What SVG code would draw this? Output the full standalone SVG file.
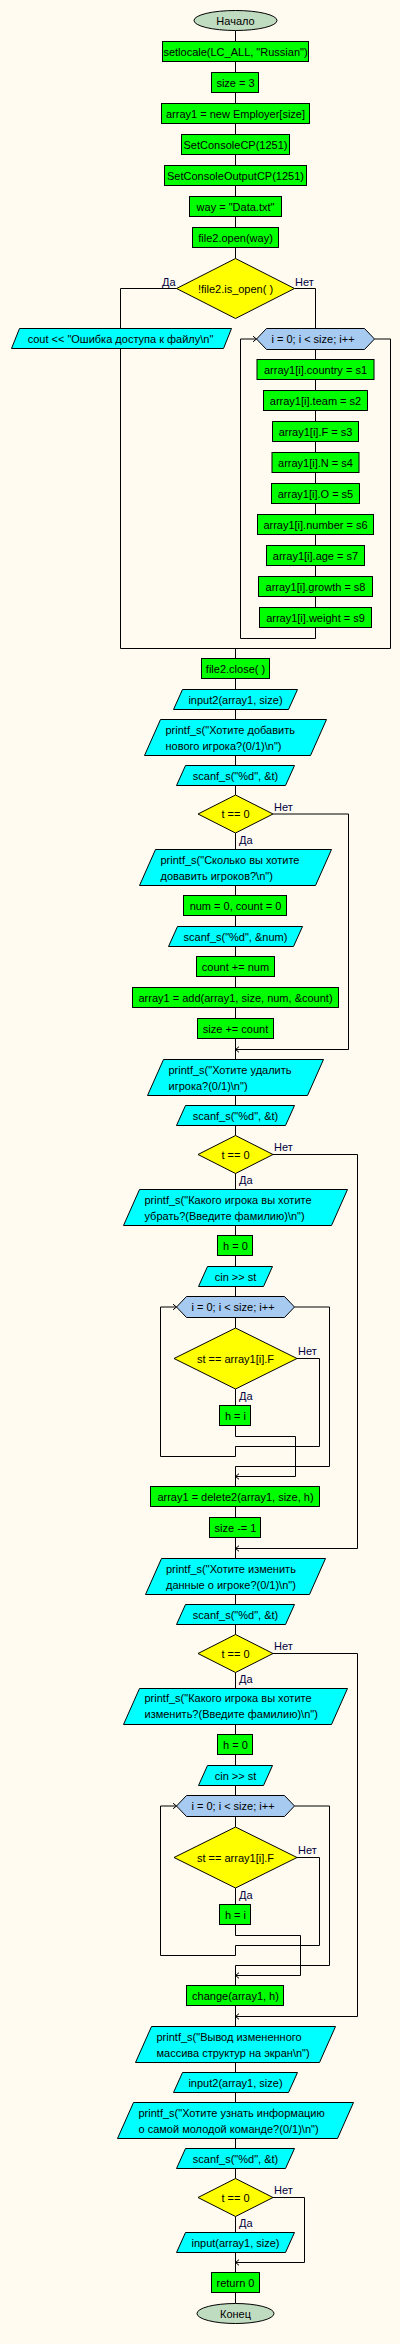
<svg xmlns="http://www.w3.org/2000/svg" width="400" height="2344" viewBox="0 0 400 2344">
<defs>
<style>
.p{fill:#00FF00;stroke:#000;stroke-width:1}
.io{fill:#00FFFF;stroke:#000;stroke-width:1}
.d{fill:#FFFF00;stroke:#000;stroke-width:1}
.h{fill:#A6CAF0;stroke:#000;stroke-width:1}
.t{fill:#C0DCC0;stroke:#000;stroke-width:1}
.ln{fill:none;stroke:#000;stroke-width:1}
.ar{fill:none;stroke:#000;stroke-width:1;marker-end:url(#arr)}
text{font-family:"Liberation Sans",Arial,sans-serif;font-size:11px;fill:#000}
.c{text-anchor:middle}
.lb{fill:#000040}
</style>
<marker id="arr" markerUnits="userSpaceOnUse" markerWidth="8" markerHeight="8" refX="0" refY="0" orient="auto" style="overflow:visible">
<path d="M-3.5,-2.8 L0,0 L-3.5,2.8" fill="none" stroke="#000" stroke-width="1"/>
</marker>
</defs>
<rect x="0" y="0" width="400" height="2344" fill="#FFFBF0"/>

<g id="connectors">
<path class="ln" d="M235.5,30.5V41.5M235.5,61.5V72.5M235.5,92.5V103.5M235.5,123.5V134.5M235.5,154.5V165.5M235.5,185.5V196.5M235.5,216.5V227.5M235.5,247.5V258.5"/>
<path class="ln" d="M176.5,288.5H120.5V328.5M120.5,348.5V648.5H390.5V339H374.5M294.5,288.5H315.5V328.5"/>
<path class="ln" d="M315.5,349.5V359.5M315.5,379.5V390.5M315.5,410.5V421.5M315.5,441.5V452.5M315.5,472.5V483.5M315.5,503.5V514.5M315.5,534.5V545.5M315.5,565.5V576.5M315.5,596.5V607.5"/>
<path class="ar" d="M315.5,627.5V638.5H240.5V339H256.5"/>
<path class="ln" d="M235.5,648.5V658.5M235.5,678.5V689.5M235.5,709.5V719.5M235.5,755.5V765.5M235.5,785.5V795M235.5,833V849.5M235.5,885.5V895.5M235.5,915.5V926.5M235.5,946.5V956.5M235.5,976.5V987.5M235.5,1007.5V1018.5M235.5,1038.5V1059.5"/>
<path class="ar" d="M273,814H348.5V1049.5H235.5"/>
<path class="ln" d="M235.5,1095.5V1105.5M235.5,1125.5V1135.5M235.5,1173.5V1189.5M235.5,1225.5V1235.5M235.5,1255.5V1266.5M235.5,1286.5V1296.5M235.5,1317.5V1328M235.5,1389V1405.5"/>
<path class="ar" d="M235.5,1425.5V1436.5H295.5V1476.5H235.5"/>
<path class="ar" d="M297,1358.5H319.5V1446.5H235.5V1456.5H160.5V1307H176.5"/>
<path class="ln" d="M294.5,1307H329.5V1466.5H235.5V1486.5"/>
<path class="ar" d="M273,1154.5H357.5V1548.5H235.5"/>
<path class="ln" d="M235.5,1506.5V1517.5M235.5,1537.5V1558.5M235.5,1594.5V1604.5M235.5,1624.5V1634.5M235.5,1672.5V1688.5M235.5,1724.5V1734.5M235.5,1754.5V1765.5M235.5,1785.5V1795.5M235.5,1816.5V1827M235.5,1888V1904.5"/>
<path class="ar" d="M235.5,1924.5V1935.5H300.5V1975.5H235.5"/>
<path class="ar" d="M297,1857.5H319.5V1945.5H235.5V1955.5H160.5V1806H176.5"/>
<path class="ln" d="M294.5,1806H329.5V1965.5H235.5V1985.5"/>
<path class="ar" d="M273,1653.5H357.5V2016.5H235.5"/>
<path class="ln" d="M235.5,2005.5V2026.5M235.5,2062.5V2072.5M235.5,2092.5V2102.5M235.5,2138.5V2148.5M235.5,2168.5V2178.5M235.5,2216.5V2232.5M235.5,2252.5V2272.5M235.5,2292.5V2303.5"/>
<path class="ar" d="M273,2197.5H304.5V2262.5H235.5"/>
</g>

<g id="labels">
<text class="lb" x="162" y="286">Да</text>
<text class="lb" x="295" y="286">Нет</text>
<text class="lb" x="274" y="811">Нет</text>
<text class="lb" x="239" y="844">Да</text>
<text class="lb" x="274" y="1151">Нет</text>
<text class="lb" x="239" y="1184">Да</text>
<text class="lb" x="298" y="1355">Нет</text>
<text class="lb" x="239" y="1400">Да</text>
<text class="lb" x="274" y="1650">Нет</text>
<text class="lb" x="239" y="1683">Да</text>
<text class="lb" x="298" y="1854">Нет</text>
<text class="lb" x="239" y="1899">Да</text>
<text class="lb" x="274" y="2194">Нет</text>
<text class="lb" x="239" y="2227">Да</text>
</g>

<g id="n_start"><ellipse class="t" cx="235.5" cy="20.5" rx="41.5" ry="10"/><text class="c" x="235.5" y="24.5">Начало</text></g>
<g id="n_setlocale"><rect class="p" x="162.5" y="41.5" width="146" height="20"/><text class="c" x="235.5" y="55.5">setlocale(LC_ALL, "Russian")</text></g>
<g id="n_size3"><rect class="p" x="211.5" y="72.5" width="47" height="20"/><text class="c" x="235.5" y="86.5">size = 3</text></g>
<g id="n_new"><rect class="p" x="161.5" y="103.5" width="148" height="20"/><text class="c" x="235.5" y="117.5">array1 = new Employer[size]</text></g>
<g id="n_cp"><rect class="p" x="181.5" y="134.5" width="108" height="20"/><text class="c" x="235.5" y="148.5">SetConsoleCP(1251)</text></g>
<g id="n_ocp"><rect class="p" x="164.5" y="165.5" width="142" height="20"/><text class="c" x="235.5" y="179.5">SetConsoleOutputCP(1251)</text></g>
<g id="n_way"><rect class="p" x="189.5" y="196.5" width="92" height="20"/><text class="c" x="235.5" y="210.5">way = "Data.txt"</text></g>
<g id="n_open"><rect class="p" x="192.5" y="227.5" width="86" height="20"/><text class="c" x="235.5" y="241.5">file2.open(way)</text></g>
<g id="n_isopen"><polygon class="d" points="235.5,258.5 294.5,288.5 235.5,318.5 176.5,288.5"/><text class="c" x="235.5" y="292.5">!file2.is_open( )</text></g>
<g id="n_cout"><polygon class="io" points="19.5,328.5 231.5,328.5 223.5,348.5 11.5,348.5"/><text class="c" x="120.5" y="342.5">cout &lt;&lt; "Ошибка доступа к файлу\n"</text></g>
<g id="n_loop1"><polygon class="h" points="256.5,339 266.5,328.5 364.5,328.5 374.5,339 364.5,349.5 266.5,349.5"/><text class="c" x="313" y="343">i = 0; i &lt; size; i++</text></g>
<g id="n_country"><rect class="p" x="257" y="359.5" width="117" height="20"/><text class="c" x="315.5" y="373.5">array1[i].country = s1</text></g>
<g id="n_team"><rect class="p" x="263.5" y="390.5" width="104" height="20"/><text class="c" x="315.5" y="404.5">array1[i].team = s2</text></g>
<g id="n_F"><rect class="p" x="272.5" y="421.5" width="86" height="20"/><text class="c" x="315.5" y="435.5">array1[i].F = s3</text></g>
<g id="n_N"><rect class="p" x="272" y="452.5" width="87" height="20"/><text class="c" x="315.5" y="466.5">array1[i].N = s4</text></g>
<g id="n_O"><rect class="p" x="271.5" y="483.5" width="88" height="20"/><text class="c" x="315.5" y="497.5">array1[i].O = s5</text></g>
<g id="n_number"><rect class="p" x="257.5" y="514.5" width="116" height="20"/><text class="c" x="315.5" y="528.5">array1[i].number = s6</text></g>
<g id="n_age"><rect class="p" x="266.5" y="545.5" width="98" height="20"/><text class="c" x="315.5" y="559.5">array1[i].age = s7</text></g>
<g id="n_growth"><rect class="p" x="258.5" y="576.5" width="114" height="20"/><text class="c" x="315.5" y="590.5">array1[i].growth = s8</text></g>
<g id="n_weight"><rect class="p" x="259.5" y="607.5" width="112" height="20"/><text class="c" x="315.5" y="621.5">array1[i].weight = s9</text></g>
<g id="n_close"><rect class="p" x="201.5" y="658.5" width="68" height="20"/><text class="c" x="235.5" y="672.5">file2.close( )</text></g>
<g id="n_input2a"><polygon class="io" points="182.5,689.5 297.5,689.5 288.5,709.5 173.5,709.5"/><text class="c" x="235.5" y="703.5">input2(array1, size)</text></g>
<g id="n_pr_add"><polygon class="io" points="160.5,719.5 326.5,719.5 310.5,755.5 144.5,755.5"/><text x="165.5" y="733.5">printf_s("Хотите добавить</text><text x="165.5" y="749.5">нового игрока?(0/1)\n")</text></g>
<g id="n_scan1"><polygon class="io" points="185.5,765.5 294.5,765.5 285.5,785.5 176.5,785.5"/><text class="c" x="235.5" y="779.5">scanf_s("%d", &amp;t)</text></g>
<g id="n_if1"><polygon class="d" points="235.5,795 273,814 235.5,833 198,814"/><text class="c" x="235.5" y="818">t == 0</text></g>
<g id="n_pr_how"><polygon class="io" points="155.5,849.5 331.5,849.5 315.5,885.5 139.5,885.5"/><text x="160.5" y="863.5">printf_s("Сколько вы хотите</text><text x="160.5" y="879.5">довавить игроков?\n")</text></g>
<g id="n_numcount"><rect class="p" x="183.5" y="895.5" width="103" height="20"/><text class="c" x="235.5" y="909.5">num = 0, count = 0</text></g>
<g id="n_scannum"><polygon class="io" points="177.5,926.5 302.5,926.5 293.5,946.5 168.5,946.5"/><text class="c" x="235.5" y="940.5">scanf_s("%d", &amp;num)</text></g>
<g id="n_countadd"><rect class="p" x="196.5" y="956.5" width="78" height="20"/><text class="c" x="235.5" y="970.5">count += num</text></g>
<g id="n_add"><rect class="p" x="132.5" y="987.5" width="206" height="20"/><text class="c" x="235.5" y="1001.5">array1 = add(array1, size, num, &amp;count)</text></g>
<g id="n_sizeadd"><rect class="p" x="197.5" y="1018.5" width="76" height="20"/><text class="c" x="235.5" y="1032.5">size += count</text></g>
<g id="n_pr_del"><polygon class="io" points="163.5,1059.5 323.5,1059.5 307.5,1095.5 147.5,1095.5"/><text x="168.5" y="1074">printf_s("Хотите удалить</text><text x="168.5" y="1090">игрока?(0/1)\n")</text></g>
<g id="n_scan2"><polygon class="io" points="185.5,1105.5 294.5,1105.5 285.5,1125.5 176.5,1125.5"/><text class="c" x="235.5" y="1119.5">scanf_s("%d", &amp;t)</text></g>
<g id="n_if2"><polygon class="d" points="235.5,1135.5 273,1154.5 235.5,1173.5 198,1154.5"/><text class="c" x="235.5" y="1158.5">t == 0</text></g>
<g id="n_pr_rm"><polygon class="io" points="139.5,1189.5 347.5,1189.5 331.5,1225.5 123.5,1225.5"/><text x="144.5" y="1203.5">printf_s("Какого игрока вы хотите</text><text x="144.5" y="1219.5">убрать?(Введите фамилию)\n")</text></g>
<g id="n_h0a"><rect class="p" x="217.5" y="1235.5" width="35" height="20"/><text class="c" x="235.5" y="1249.5">h = 0</text></g>
<g id="n_cina"><polygon class="io" points="207.5,1266.5 272.5,1266.5 263.5,1286.5 198.5,1286.5"/><text class="c" x="235.5" y="1280.5">cin &gt;&gt; st</text></g>
<g id="n_loop2"><polygon class="h" points="176.5,1307 186.5,1296.5 284.5,1296.5 294.5,1307 284.5,1317.5 186.5,1317.5"/><text class="c" x="233" y="1311">i = 0; i &lt; size; i++</text></g>
<g id="n_cmp1"><polygon class="d" points="235.5,1328 297,1358.5 235.5,1389 174,1358.5"/><text class="c" x="235.5" y="1362.5">st == array1[i].F</text></g>
<g id="n_hia"><rect class="p" x="219.5" y="1405.5" width="31" height="20"/><text class="c" x="235.5" y="1419.5">h = i</text></g>
<g id="n_del"><rect class="p" x="150.5" y="1486.5" width="169" height="20"/><text class="c" x="235.5" y="1500.5">array1 = delete2(array1, size, h)</text></g>
<g id="n_sizesub"><rect class="p" x="209.5" y="1517.5" width="51" height="20"/><text class="c" x="235.5" y="1531.5">size -= 1</text></g>
<g id="n_pr_ch"><polygon class="io" points="161.5,1558.5 325.5,1558.5 309.5,1594.5 145.5,1594.5"/><text x="166" y="1572.5">printf_s("Хотите изменить</text><text x="166" y="1588.5">данные о игроке?(0/1)\n")</text></g>
<g id="n_scan3"><polygon class="io" points="185.5,1604.5 294.5,1604.5 285.5,1624.5 176.5,1624.5"/><text class="c" x="235.5" y="1618.5">scanf_s("%d", &amp;t)</text></g>
<g id="n_if3"><polygon class="d" points="235.5,1634.5 273,1653.5 235.5,1672.5 198,1653.5"/><text class="c" x="235.5" y="1657.5">t == 0</text></g>
<g id="n_pr_which"><polygon class="io" points="139.5,1688.5 347.5,1688.5 331.5,1724.5 123.5,1724.5"/><text x="144.5" y="1702">printf_s("Какого игрока вы хотите</text><text x="144.5" y="1718">изменить?(Введите фамилию)\n")</text></g>
<g id="n_h0b"><rect class="p" x="217.5" y="1734.5" width="35" height="20"/><text class="c" x="235.5" y="1748.5">h = 0</text></g>
<g id="n_cinb"><polygon class="io" points="207.5,1765.5 272.5,1765.5 263.5,1785.5 198.5,1785.5"/><text class="c" x="235.5" y="1779.5">cin &gt;&gt; st</text></g>
<g id="n_loop3"><polygon class="h" points="176.5,1806 186.5,1795.5 284.5,1795.5 294.5,1806 284.5,1816.5 186.5,1816.5"/><text class="c" x="233" y="1810">i = 0; i &lt; size; i++</text></g>
<g id="n_cmp2"><polygon class="d" points="235.5,1827 297,1857.5 235.5,1888 174,1857.5"/><text class="c" x="235.5" y="1861.5">st == array1[i].F</text></g>
<g id="n_hib"><rect class="p" x="219.5" y="1904.5" width="31" height="20"/><text class="c" x="235.5" y="1918.5">h = i</text></g>
<g id="n_change"><rect class="p" x="186.5" y="1985.5" width="97" height="20"/><text class="c" x="235.5" y="1999.5">change(array1, h)</text></g>
<g id="n_pr_out"><polygon class="io" points="151.5,2026.5 335.5,2026.5 319.5,2062.5 135.5,2062.5"/><text x="156.5" y="2040.5">printf_s("Вывод измененного</text><text x="156.5" y="2056.5">массива структур на экран\n")</text></g>
<g id="n_input2b"><polygon class="io" points="182.5,2072.5 297.5,2072.5 288.5,2092.5 173.5,2092.5"/><text class="c" x="235.5" y="2086.5">input2(array1, size)</text></g>
<g id="n_pr_young"><polygon class="io" points="133.5,2102.5 353.5,2102.5 337.5,2138.5 117.5,2138.5"/><text x="138.5" y="2117">printf_s("Хотите узнать информацию</text><text x="138.5" y="2133">о самой молодой команде?(0/1)\n")</text></g>
<g id="n_scan4"><polygon class="io" points="185.5,2148.5 294.5,2148.5 285.5,2168.5 176.5,2168.5"/><text class="c" x="235.5" y="2162.5">scanf_s("%d", &amp;t)</text></g>
<g id="n_if4"><polygon class="d" points="235.5,2178.5 273,2197.5 235.5,2216.5 198,2197.5"/><text class="c" x="235.5" y="2201.5">t == 0</text></g>
<g id="n_input"><polygon class="io" points="185.5,2232.5 294.5,2232.5 285.5,2252.5 176.5,2252.5"/><text class="c" x="235.5" y="2246.5">input(array1, size)</text></g>
<g id="n_return"><rect class="p" x="211.5" y="2272.5" width="48" height="20"/><text class="c" x="235.5" y="2286.5">return 0</text></g>
<g id="n_end"><ellipse class="t" cx="235.5" cy="2313.5" rx="38.5" ry="10"/><text class="c" x="235.5" y="2317.5">Конец</text></g>
</svg>
